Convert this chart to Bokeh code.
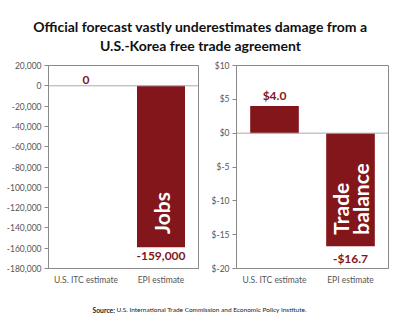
from math import pi
from bokeh.plotting import figure
from bokeh.layouts import column, row
from bokeh.models import Range1d, FactorRange, Span, Label, NumeralTickFormatter, FixedTicker, ColumnDataSource
from bokeh.core.properties import value
from bokeh.embed import file_html
from bokeh.resources import INLINE

# ---- data ----
title_lines = ["Official forecast vastly underestimates damage from a",
               "U.S.-Korea free trade agreement"]
categories = ["U.S. ITC estimate", "EPI estimate"]
jobs = [0, -159000]
trade = [4.0, -16.7]
jobs_ticks = [20000, 0, -20000, -40000, -60000, -80000, -100000, -120000, -140000, -160000, -180000]
trade_ticks = [10, 5, 0, -5, -10, -15, -20]
trade_tick_labels = ["$10", "$5", "$0", "$-5", "$-10", "$-15", "$-20"]
source_bold = "Source:"
source_text = "U.S. International Trade Commission and Economic Policy Institute."

RED = "#83161b"
GRAY = "#8a8a8a"
LBL = "#555555"
FONT = "Lato"


def base_fig(width, ymin, ymax, left, right):
    p = figure(width=width, height=240, x_range=FactorRange(*categories, range_padding=0),
               y_range=Range1d(ymin, ymax), output_backend="svg", toolbar_location=None,
               min_border_left=left, min_border_right=right, min_border_top=10, min_border_bottom=27)
    p.xgrid.visible = False
    p.ygrid.visible = False
    p.outline_line_color = GRAY
    p.outline_line_width = 1
    p.yaxis.axis_line_color = GRAY
    p.yaxis.major_tick_line_color = GRAY
    p.yaxis.major_tick_out = 4
    p.yaxis.major_tick_in = 0
    p.yaxis.minor_tick_line_color = None
    p.yaxis.major_label_text_font = FONT
    p.yaxis.major_label_text_font_size = "8.5px"
    p.yaxis.major_label_text_color = LBL
    p.yaxis.major_label_standoff = 3
    p.xaxis.axis_line_color = GRAY
    p.xaxis.major_tick_line_color = None
    p.xaxis.major_tick_out = 0
    p.xaxis.major_tick_in = 0
    p.xaxis.major_label_text_font = FONT
    p.xaxis.major_label_text_font_size = "8.5px"
    p.xaxis.major_label_text_color = LBL
    p.xaxis.major_label_standoff = 6
    p.add_layout(Span(location=0, dimension="width", line_color="#aaaaaa", line_width=1))
    return p


# ---- left: jobs ----
p1 = base_fig(200, -180000, 20000, 48, 2)
p1.yaxis.ticker = FixedTicker(ticks=jobs_ticks)
p1.yaxis.formatter = NumeralTickFormatter(format="0,0")
src1 = ColumnDataSource(dict(x=categories, top=jobs,
                             lbl=["{:,}".format(v) for v in jobs]))
p1.vbar(x=[categories[1]], top=[jobs[1]], bottom=0, width=0.64, fill_color=RED, line_color=None)
p1.text(x=[categories[0]], y=[jobs[0]], text=[src1.data["lbl"][0]], text_align="center",
        text_baseline="bottom", y_offset=-2, text_color=RED, text_font=value(FONT),
        text_font_style="bold", text_font_size="12px")
p1.text(x=[categories[1]], y=[jobs[1]], text=[src1.data["lbl"][1]], text_align="center",
        text_baseline="top", y_offset=5, text_color=RED, text_font=value(FONT),
        text_font_style="bold", text_font_size="12px")
p1.text(x=[categories[1]], y=[-146000], text=["Jobs"], angle=pi / 2, text_align="left",
        text_baseline="middle", text_color="white", text_font=value(FONT),
        text_font_style="bold", text_font_size="21px")

# ---- right: trade balance ----
p2 = base_fig(200, -20, 10, 36, 12)
p2.yaxis.ticker = FixedTicker(ticks=trade_ticks)
p2.yaxis.major_label_overrides = {t: l for t, l in zip(trade_ticks, trade_tick_labels)}
p2.vbar(x=categories, top=trade, bottom=0, width=0.64, fill_color=RED, line_color=None)
trade_lbl = [("-$" if v < 0 else "$") + "{:.1f}".format(abs(v)) for v in trade]
p2.text(x=[categories[0]], y=[trade[0]], text=[trade_lbl[0]], text_align="center",
        text_baseline="bottom", y_offset=-3, text_color=RED, text_font=value(FONT),
        text_font_style="bold", text_font_size="12px")
p2.text(x=[categories[1]], y=[trade[1]], text=[trade_lbl[1]], text_align="center",
        text_baseline="top", y_offset=5, text_color=RED, text_font=value(FONT),
        text_font_style="bold", text_font_size="12px")
p2.text(x=[categories[1]], y=[-15.0], text=["Trade"], angle=pi / 2, text_align="left",
        text_baseline="middle", x_offset=-10, text_color="white", text_font=value(FONT),
        text_font_style="bold", text_font_size="21px")
p2.text(x=[categories[1]], y=[-15.0], text=["balance"], angle=pi / 2, text_align="left",
        text_baseline="middle", x_offset=10, text_color="white", text_font=value(FONT),
        text_font_style="bold", text_font_size="21px")


def text_fig(height):
    f = figure(width=400, height=height, x_range=Range1d(0, 400), y_range=Range1d(height, 0),
               output_backend="svg", toolbar_location=None, min_border=0)
    f.axis.visible = False
    f.xgrid.visible = False
    f.ygrid.visible = False
    f.outline_line_color = None
    return f


# ---- title ----
pt = text_fig(55)
for i, line in enumerate(title_lines):
    pt.add_layout(Label(x=200, y=26 + 18.5 * i, text=line, text_align="center",
                        text_baseline="alphabetic", text_font=FONT, text_font_style="bold",
                        text_font_size="14px", text_color="#111111"))

# ---- source ----
ps = text_fig(33)
ps.add_layout(Label(x=92, y=14, text=source_bold, text_align="left", text_baseline="middle",
                    text_font=FONT, text_font_style="bold", text_font_size="6.8px", text_color="#222222"))
ps.add_layout(Label(x=116, y=14, text=source_text, text_align="left", text_baseline="middle",
                    text_font=FONT, text_font_size="6.5px", text_color="#222222"))

layout = column(pt, row(p1, p2), ps)
open("out.html", "w").write(file_html(layout, INLINE))
